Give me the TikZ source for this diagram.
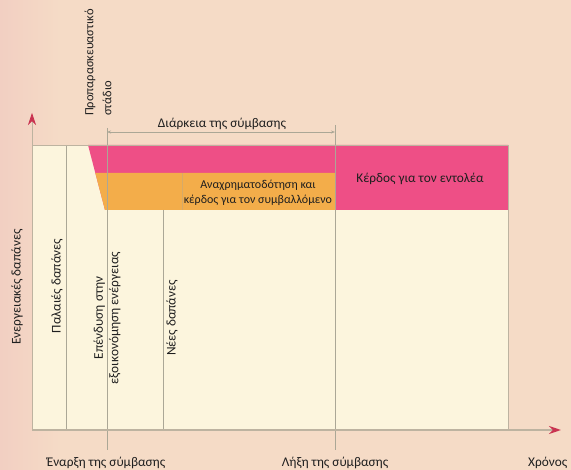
\documentclass[tikz,border=0pt]{standalone}
\usepackage{fontspec}
\setmainfont{Carlito}
\usetikzlibrary{arrows.meta}
\definecolor{bg}{HTML}{F5DBC6}
\definecolor{bgl}{HTML}{F2CFC2}
\definecolor{cream}{HTML}{FCF5DD}
\definecolor{pinkc}{HTML}{EE4F86}
\definecolor{orangec}{HTML}{F3AD4A}
\definecolor{axisc}{HTML}{BDB3A0}
\definecolor{redc}{HTML}{C93350}
\definecolor{linec}{HTML}{ABA796}
\begin{document}
\begin{tikzpicture}[x=1pt,y=-1pt,
  lbl/.style={font=\fontsize{13.3}{15.5}\selectfont, inner sep=0pt, text=black!88},
  vline/.style={linec, line width=0.6pt},
  axisline/.style={axisc, line width=2pt}]
\useasboundingbox (0,0) rectangle (571,470);
\fill[bg] (0,0) rectangle (571,470);
\shade[left color=bgl, right color=bg] (0,0) rectangle (60,470);
\fill[cream] (32,145) rectangle (508,429);
\fill[pinkc] (88,145) -- (508,145) -- (508,210) -- (105,210) -- cycle;
\fill[orangec] (95.3,173) -- (335,173) -- (335,210) -- (105,210) -- cycle;
% coordinates
\coordinate (o) at (32,430);
\coordinate (ytip) at (32,113);
\coordinate (xtip) at (561,430);
\coordinate (v1a) at (66,145); \coordinate (v1b) at (66,430);
\coordinate (v2a) at (107,128); \coordinate (v2b) at (107,450);
\coordinate (v3a) at (163,210); \coordinate (v3b) at (163,430);
\coordinate (v4a) at (335,125); \coordinate (v4b) at (335,450);
\coordinate (v5a) at (182,173); \coordinate (v5b) at (182,210);
\coordinate (d1) at (107,132); \coordinate (d2) at (335,132);
% lines
\draw[vline] (v1a) -- (v1b);
\draw[vline] (v2a) -- (v2b);
\draw[vline] (v3a) -- (v3b);
\draw[vline] (v4a) -- (v4b);
\draw[vline, opacity=0.4] (v5a) -- (v5b);
\draw[axisc, line width=0.7pt] (32,429) -- (32,145) -- (508,145) -- (508,429);
\draw[axisc, line width=0.7pt, -{Stealth[color=redc,length=12pt,width=8pt]}] (o) -- (ytip);
\draw[axisline, -{Stealth[color=redc,length=12pt,width=8pt]}] (o) -- (xtip);
\draw[vline, {Stealth[length=4pt,width=3pt]}-{Stealth[length=4pt,width=3pt]}] (d1) -- (d2);
% texts
\node[lbl, rotate=90, anchor=west, align=left, font=\fontsize{12.5}{18}\selectfont] (prep) at (98,116) {Προπαρασκευαστικό\\στάδιο};
\node[lbl] (dur) at (222,124) {Διάρκεια της σύμβασης};
\node[lbl, align=center, font=\fontsize{12}{15.5}\selectfont] (refin) at (258,193) {Αναχρηματοδότηση και\\κέρδος για τον συμβαλλόμενο};
\node[lbl] (gain) at (420,179) {Κέρδος για τον εντολέα};
\node[lbl, rotate=90] (energy) at (17,287) {Ενεργειακές δαπάνες};
\node[lbl, rotate=90] (old) at (57,286) {Παλαιές δαπάνες};
\node[lbl, rotate=90, align=center] (inv) at (107,318) {Επένδυση στην\\εξοικονόμηση ενέργειας};
\node[lbl, rotate=90] (new) at (172,318) {Νέες δαπάνες};
\node[lbl] (start) at (106,463) {Έναρξη της σύμβασης};
\node[lbl] (end) at (335,463) {Λήξη της σύμβασης};
\node[lbl, anchor=west] (time) at (528,463) {Χρόνος};
\end{tikzpicture}
\end{document}
